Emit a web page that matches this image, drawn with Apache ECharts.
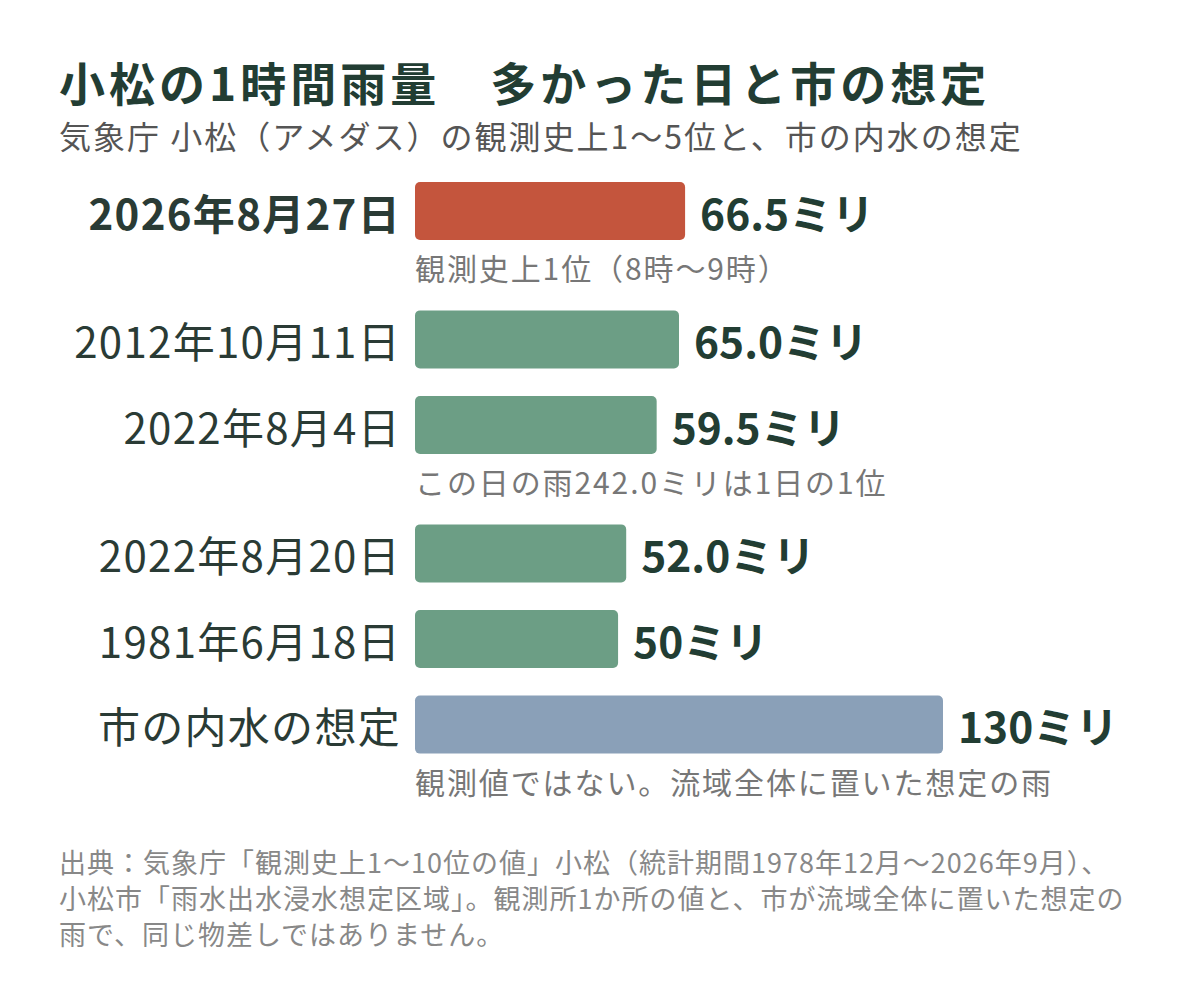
<!DOCTYPE html>
<html>
<head>
    <meta charset="utf-8">
    <title>小松の1時間雨量</title>
    <script src="https://cdn.jsdelivr.net/npm/echarts@6/dist/echarts.min.js"></script>
    <style>
        html, body { margin: 0; padding: 0; background: #fff; }
        #chart1 { width: 1200px; height: 982px; }
        /* 元図の字間に合わせる */
        #chart1 text[style*="46px"] { letter-spacing: 4px; }
        #chart1 text[style*="32px"] { letter-spacing: 2px; }
        #chart1 text[style*="27px"] { letter-spacing: 1px; }
        #chart1 text[style*="30px"] { letter-spacing: 1.9px; }
        #chart1 text[style*="42px"] { letter-spacing: 1.3px; }
    </style>
</head>
<body>
<div id="chart1"></div>
<script>
    // データ
    var dates = ['2026年8月27日', '2012年10月11日', '2022年8月4日', '2022年8月20日', '1981年6月18日', '市の内水の想定'];
    var rain = [66.5, 65.0, 59.5, 52.0, 50, 130];
    var rainText = ['66.5', '65.0', '59.5', '52.0', '50', '130'];
    var notes = ['観測史上1位（8時～9時）', '', 'この日の雨242.0ミリは1日の1位', '', '', '観測値ではない。流域全体に置いた想定の雨'];
    var barColors = ['#c4553d', '#6c9e85', '#6c9e85', '#6c9e85', '#6c9e85', '#8aa0b8'];
    // 行の位置（注記の分だけ間をあける）
    var rowSlot = [0, 3, 5, 8, 10, 12];
    var slotCount = 13;

    var font = '"Noto Sans CJK JP", "Noto Sans", sans-serif';

    var cats = [], barData = [], noteData = [];
    for (var k = 0; k < slotCount; k++) {
        cats.push('');
        barData.push('-');
        noteData.push('-');
    }
    rowSlot.forEach(function (s, i) {
        cats[s] = {
            value: dates[i],
            textStyle: {fontWeight: i === 0 ? 'bold' : 'normal'}
        };
        barData[s] = {
            value: rain[i],
            itemStyle: {color: barColors[i]},
            label: {formatter: rainText[i] + 'ミリ'}
        };
        if (notes[i]) {
            noteData[s] = {value: rain[i], label: {formatter: notes[i]}};
        }
    });

    var myChart1 = echarts.init(document.getElementById('chart1'), null, {renderer: 'svg'});
    myChart1.setOption({
        animation: false,
        backgroundColor: '#fff',
        textStyle: {fontFamily: font},
        title: [
            {
                text: '小松の1時間雨量　多かった日と市の想定',
                left: 59, top: 55, padding: 0,
                textStyle: {fontSize: 46, fontWeight: 'bold', color: '#223d33', fontFamily: font, lineHeight: 52}
            },
            {
                text: '気象庁 小松（アメダス）の観測史上1～5位と、市の内水の想定',
                left: 59, top: 115, padding: 0,
                textStyle: {fontSize: 32, fontWeight: 'normal', color: '#555', fontFamily: font, lineHeight: 40}
            },
            {
                text: '出典：気象庁「観測史上1～10位の値」小松（統計期間1978年12月～2026年9月）、\n小松市「雨水出水浸水想定区域」。観測所1か所の値と、市が流域全体に置いた想定の\n雨で、同じ物差しではありません。',
                left: 59, top: 843, padding: 0,
                textStyle: {fontSize: 27, fontWeight: 'normal', color: '#888', fontFamily: font, lineHeight: 36}
            }
        ],
        grid: {left: 415, right: 257, top: 189.6, height: 556.4, containLabel: false},
        xAxis: {
            type: 'value', min: 0, max: 130,
            show: false
        },
        yAxis: {
            type: 'category',
            inverse: true,
            data: cats,
            axisLine: {show: false},
            axisTick: {show: false},
            axisLabel: {
                fontSize: 42, color: '#2a3b35', fontFamily: font, margin: 14, interval: 0
            }
        },
        series: [
            {
                name: '雨量',
                type: 'bar',
                data: barData,
                barWidth: 58,
                clip: false,
                itemStyle: {borderRadius: 5},
                label: {
                    show: true, position: 'right', distance: 15,
                    fontSize: 42.5, fontWeight: 'bold', color: '#223d33', fontFamily: font
                }
            },
            {
                name: '注記',
                type: 'bar',
                data: noteData,
                barWidth: 58,
                barGap: '-100%',
                clip: false,
                silent: true,
                itemStyle: {color: 'rgba(0,0,0,0)'},
                label: {
                    show: true, position: [0, '100%'], offset: [0, 27],
                    align: 'left', verticalAlign: 'middle',
                    fontSize: 30, color: '#777', fontFamily: font
                }
            }
        ]
    });
</script>
</body>
</html>
